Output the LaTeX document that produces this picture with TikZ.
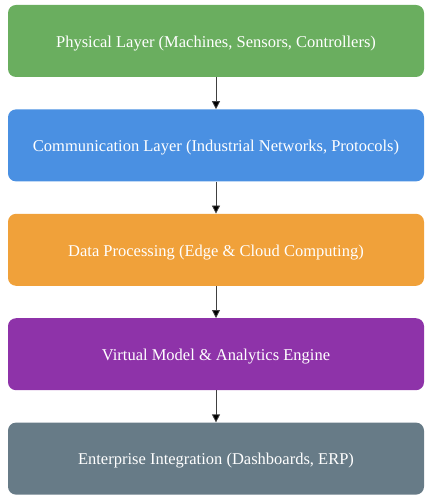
\documentclass[tikz,border=0pt]{standalone}
\usepackage{fontspec}
\setmainfont{Liberation Serif}
\usepackage{xcolor}
\usetikzlibrary{positioning}
\usetikzlibrary{arrows.meta}
\definecolor{physcol}{HTML}{6AAE5F}
\definecolor{commcol}{HTML}{4A90E2}
\definecolor{datacol}{HTML}{F0A13A}
\definecolor{virtcol}{HTML}{8E33A9}
\definecolor{entcol}{HTML}{677B87}

\begin{document}
\begin{tikzpicture}[
x=1pt,y=1pt,
LayerBox/.style={rounded corners=8pt,minimum width=416pt,minimum height=72pt,text=white,
  text height=14pt,text depth=1.5pt,font=\fontsize{16.5}{19}\selectfont},
LayerArrow/.style={draw=black!75,thick,-{Triangle[length=8pt,width=8pt,fill=black]}},
node distance=32pt
]
\useasboundingbox (0,0) rectangle (432,-502);

% the five layers, top to bottom
\node[LayerBox,fill=physcol] (phys) at (216,-41) {Physical Layer (Machines, Sensors, Controllers)};
\node[LayerBox,fill=commcol,below=of phys] (comm) {Communication Layer (Industrial Networks, Protocols)};
\node[LayerBox,fill=datacol,below=of comm] (data) {Data Processing (Edge \& Cloud Computing)};
\node[LayerBox,fill=virtcol,below=of data] (virt) {Virtual Model \& Analytics Engine};
\node[LayerBox,fill=entcol,below=of virt] (ent) {Enterprise Integration (Dashboards, ERP)};

% arrows between them
\draw[LayerArrow] (phys)--(comm);
\draw[LayerArrow] (comm)--(data);
\draw[LayerArrow] (data)--(virt);
\draw[LayerArrow] (virt)--(ent);

\end{tikzpicture}
\end{document}
